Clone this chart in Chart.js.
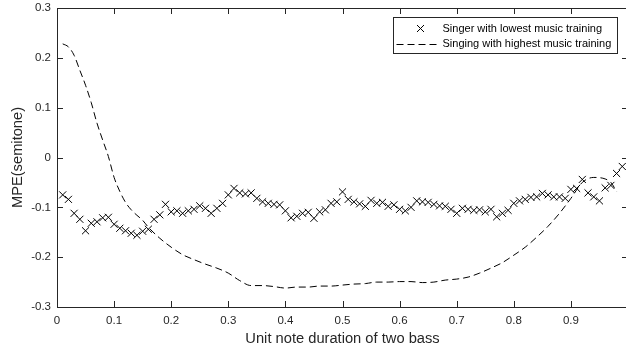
<!DOCTYPE html>
<html>
<head>
<meta charset="utf-8">
<script src="https://cdn.jsdelivr.net/npm/chart.js@4"></script>
<style>
html, body { margin: 0; padding: 0; background: #fff; overflow: hidden; }
#wrap { width: 634px; height: 352px; }
</style>
</head>
<body>
<div id="wrap"><canvas id="mpeChart" width="634" height="352"></canvas></div>
<script>
// Unit note duration (x) for the lowest-training singer
const lowX = [0.01, 0.02, 0.03, 0.04, 0.05, 0.06, 0.07, 0.08, 0.09, 0.10,
    0.11, 0.12, 0.13, 0.14, 0.15, 0.16, 0.17, 0.18, 0.19, 0.20,
    0.21, 0.22, 0.23, 0.24, 0.25, 0.26, 0.27, 0.28, 0.29, 0.30,
    0.31, 0.32, 0.33, 0.34, 0.35, 0.36, 0.37, 0.38, 0.39, 0.40,
    0.41, 0.42, 0.43, 0.44, 0.45, 0.46, 0.47, 0.48, 0.49, 0.50,
    0.51, 0.52, 0.53, 0.54, 0.55, 0.56, 0.57, 0.58, 0.59, 0.60,
    0.61, 0.62, 0.63, 0.64, 0.65, 0.66, 0.67, 0.68, 0.69, 0.70,
    0.71, 0.72, 0.73, 0.74, 0.75, 0.76, 0.77, 0.78, 0.79, 0.80,
    0.81, 0.82, 0.83, 0.84, 0.85, 0.86, 0.87, 0.88, 0.89, 0.90,
    0.91, 0.92, 0.93, 0.94, 0.95, 0.96, 0.97, 0.98, 0.99];
const lowMPE = [-0.075, -0.084, -0.112, -0.124, -0.147, -0.132, -0.129, -0.121, -0.120, -0.134,
    -0.142, -0.147, -0.152, -0.156, -0.148, -0.144, -0.124, -0.115, -0.094, -0.109,
    -0.107, -0.112, -0.107, -0.104, -0.097, -0.102, -0.112, -0.102, -0.092, -0.075,
    -0.062, -0.071, -0.073, -0.071, -0.082, -0.089, -0.092, -0.094, -0.095, -0.107,
    -0.121, -0.118, -0.112, -0.110, -0.122, -0.109, -0.105, -0.092, -0.089, -0.069,
    -0.084, -0.089, -0.093, -0.098, -0.086, -0.092, -0.090, -0.098, -0.095, -0.104,
    -0.107, -0.100, -0.087, -0.089, -0.090, -0.094, -0.097, -0.098, -0.104, -0.112,
    -0.102, -0.104, -0.106, -0.105, -0.109, -0.104, -0.119, -0.112, -0.106, -0.092,
    -0.087, -0.084, -0.080, -0.079, -0.072, -0.075, -0.079, -0.079, -0.082, -0.064,
    -0.062, -0.044, -0.071, -0.079, -0.087, -0.061, -0.056, -0.032, -0.018];

// Highest-training curve
const highX = [0.01, 0.02, 0.03, 0.04, 0.05, 0.06, 0.07, 0.08, 0.09, 0.10,
    0.11, 0.12, 0.13, 0.14, 0.15, 0.16, 0.18, 0.20, 0.22, 0.24,
    0.26, 0.28, 0.30, 0.32, 0.34, 0.36, 0.38, 0.40, 0.42, 0.44,
    0.46, 0.48, 0.50, 0.52, 0.54, 0.56, 0.58, 0.60, 0.62, 0.64,
    0.66, 0.68, 0.70, 0.72, 0.74, 0.76, 0.78, 0.80, 0.82, 0.84,
    0.86, 0.88, 0.90, 0.92, 0.94, 0.96, 0.97, 0.98];
const highMPE = [0.228, 0.222, 0.205, 0.175, 0.145, 0.110, 0.069, 0.035, 0.002, -0.040,
    -0.068, -0.090, -0.105, -0.116, -0.126, -0.140, -0.162, -0.180, -0.195, -0.205,
    -0.214, -0.222, -0.232, -0.247, -0.257, -0.257, -0.259, -0.262, -0.260, -0.260,
    -0.258, -0.258, -0.256, -0.254, -0.253, -0.250, -0.250, -0.249, -0.249, -0.251,
    -0.250, -0.246, -0.244, -0.240, -0.232, -0.222, -0.211, -0.196, -0.180, -0.160,
    -0.138, -0.112, -0.082, -0.050, -0.040, -0.043, -0.050, -0.068];

const xTicks = [0, 0.1, 0.2, 0.3, 0.4, 0.5, 0.6, 0.7, 0.8, 0.9];
const xTickLabels = ['0', '0.1', '0.2', '0.3', '0.4', '0.5', '0.6', '0.7', '0.8', '0.9'];
const yTicks = [-0.3, -0.2, -0.1, 0, 0.1, 0.2, 0.3];
const yTickLabels = ['-0.3', '-0.2', '-0.1', '0', '0.1', '0.2', '0.3'];

const axisColor = '#262626';
const fontFamily = '"Liberation Sans", Arial, Helvetica, sans-serif';

// Box, inward ticks and the legend, drawn MATLAB style
const boxPlugin = {
    id: 'box',
    afterDatasetsDraw(chart) {
        const { ctx, chartArea: a, scales: { x, y } } = chart;
        ctx.save();
        ctx.strokeStyle = axisColor;
        ctx.lineWidth = 1;
        ctx.setLineDash([]);
        ctx.beginPath();
        ctx.rect(Math.round(a.left) + 0.5, Math.round(a.top) + 0.5,
            Math.round(a.right - a.left), Math.round(a.bottom - a.top));
        ctx.stroke();

        ctx.beginPath();
        xTicks.forEach(v => {
            const px = Math.round(x.getPixelForValue(v)) + 0.5;
            ctx.moveTo(px, a.bottom);
            ctx.lineTo(px, a.bottom - 6);
            ctx.moveTo(px, a.top);
            ctx.lineTo(px, a.top + 6);
        });
        yTicks.forEach(v => {
            const py = Math.round(y.getPixelForValue(v)) + 0.5;
            ctx.moveTo(a.left, py);
            ctx.lineTo(a.left + 6, py);
            ctx.moveTo(a.right, py);
            ctx.lineTo(a.right - 6, py);
        });
        ctx.stroke();

        // legend box
        const bw = 224, bh = 36;
        const bx = Math.round(a.right - 11 - bw) + 0.5;
        const by = Math.round(a.top + 9) + 0.5;
        ctx.fillStyle = '#fff';
        ctx.fillRect(bx, by, bw, bh);
        ctx.strokeRect(bx, by, bw, bh);

        const ds = chart.data.datasets;
        const row1 = by + 11, row2 = by + 26;
        ctx.strokeStyle = '#000';
        ctx.beginPath();
        const mx = bx + 27, r = 3.5;
        ctx.moveTo(mx - r, row1 - r); ctx.lineTo(mx + r, row1 + r);
        ctx.moveTo(mx - r, row1 + r); ctx.lineTo(mx + r, row1 - r);
        ctx.stroke();

        ctx.setLineDash([7, 4]);
        ctx.beginPath();
        ctx.moveTo(bx + 3, Math.round(row2) + 0.5);
        ctx.lineTo(bx + 47, Math.round(row2) + 0.5);
        ctx.stroke();
        ctx.setLineDash([]);

        ctx.fillStyle = '#000';
        ctx.font = '11px ' + fontFamily;
        ctx.textBaseline = 'middle';
        ctx.textAlign = 'left';
        ctx.fillText(ds[0].label, bx + 49, row1);
        ctx.fillText(ds[1].label, bx + 49, row2);
        ctx.restore();
    }
};

// drop the label-overhang padding so the plot box sits where MATLAB put it
function noPadding(s) {
    s.paddingTop = 0;
    s.paddingBottom = 0;
    s.paddingLeft = 0;
    s.paddingRight = 0;
}

const ctx = document.getElementById('mpeChart').getContext('2d');
new Chart(ctx, {
    type: 'scatter',
    data: {
        datasets: [{
            label: 'Singer with lowest music training',
            data: lowX.map((v, i) => ({ x: v, y: lowMPE[i] })),
            showLine: false,
            pointStyle: 'crossRot',
            pointRadius: 5,
            pointBorderWidth: 1,
            borderColor: '#000',
            backgroundColor: '#000'
        }, {
            label: 'Singing with highest music training',
            data: highX.map((v, i) => ({ x: v, y: highMPE[i] })),
            showLine: true,
            borderColor: '#000',
            borderWidth: 1,
            borderDash: [7, 4],
            pointRadius: 0,
            cubicInterpolationMode: 'monotone'
        }]
    },
    options: {
        responsive: false,
        animation: false,
        devicePixelRatio: 1,
        layout: { padding: { top: 8, right: 1, left: 0, bottom: 0 } },
        plugins: {
            legend: { display: false },
            tooltip: { enabled: false }
        },
        scales: {
            x: {
                type: 'linear',
                min: 0,
                max: 1,
                grid: { display: false, drawTicks: false },
                border: { display: false },
                afterBuildTicks: s => { s.ticks = xTicks.map(v => ({ value: v })); },
                afterFit: s => { s.height = 45; noPadding(s); },
                ticks: {
                    padding: 7,
                    color: axisColor,
                    font: { size: 11.5, family: fontFamily },
                    maxRotation: 0,
                    callback: (v, i) => xTickLabels[i]
                },
                title: {
                    display: true,
                    text: 'Unit note duration of two bass',
                    color: axisColor,
                    font: { size: 14.7, family: fontFamily },
                    padding: { top: 0, bottom: 4 }
                }
            },
            y: {
                min: -0.3,
                max: 0.3,
                grid: { display: false, drawTicks: false },
                border: { display: false },
                afterBuildTicks: s => { s.ticks = yTicks.map(v => ({ value: v })); },
                afterFit: s => { s.width = 57; noPadding(s); },
                ticks: {
                    padding: 6,
                    color: axisColor,
                    font: { size: 11.5, family: fontFamily },
                    callback: (v, i) => yTickLabels[i]
                },
                title: {
                    display: true,
                    text: 'MPE(semitone)',
                    color: axisColor,
                    font: { size: 14.7, family: fontFamily },
                    padding: { top: 9, bottom: 0 }
                }
            }
        }
    },
    plugins: [boxPlugin]
});
</script>
</body>
</html>
